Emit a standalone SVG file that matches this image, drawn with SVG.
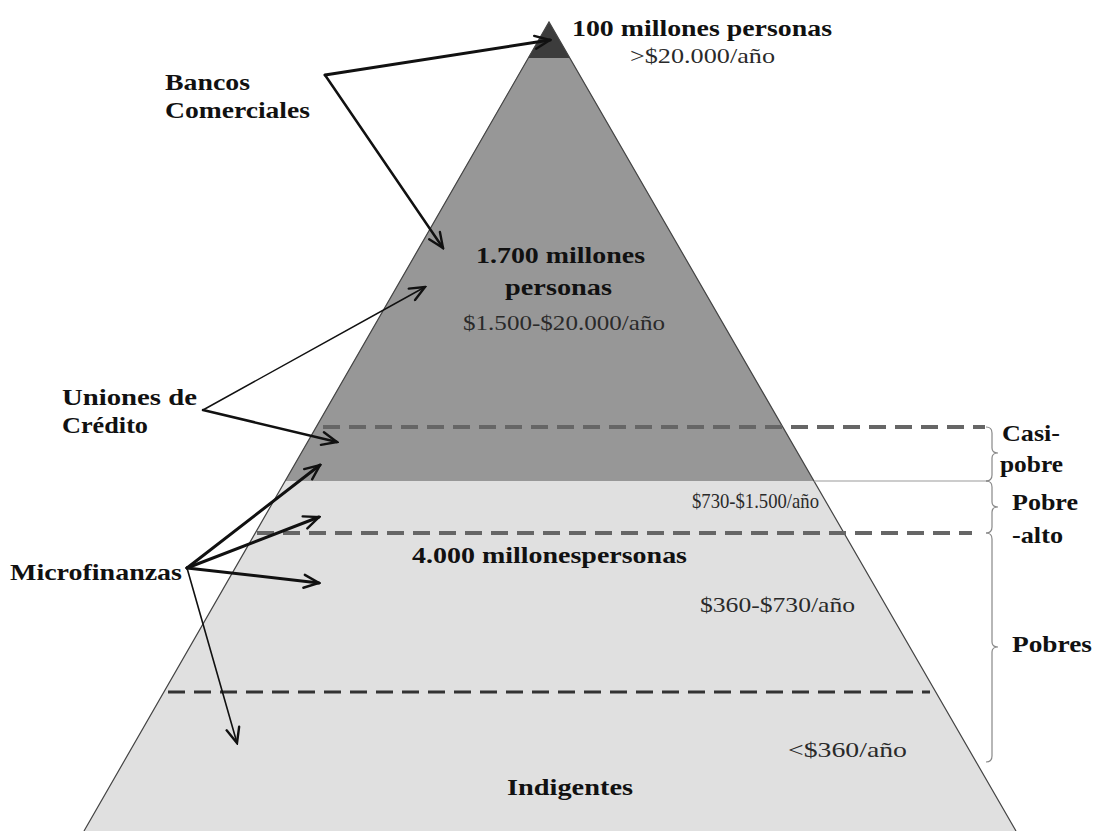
<svg xmlns="http://www.w3.org/2000/svg" width="1095" height="831" viewBox="0 0 1095 831">
<defs>
<style>
.b{font-family:"Liberation Serif","Times New Roman",serif;font-weight:bold;fill:#111;}
.n{font-family:"Liberation Serif","Times New Roman",serif;fill:#2a2a2a;}
.arr{fill:none;stroke:#111;stroke-linecap:round;marker-end:url(#ah);}
.dash1{stroke:#666;stroke-width:4;stroke-dasharray:17 9;fill:none;}
.dash2{stroke:#333;stroke-width:3;stroke-dasharray:17 9;fill:none;}
.brace{fill:none;stroke:#888;stroke-width:1.2;}
</style>
<marker id="ah" viewBox="-17 -8 19 16" refX="0" refY="0" markerWidth="19" markerHeight="16" markerUnits="userSpaceOnUse" orient="auto">
<path d="M -15,-6.5 L 0,0 L -15,6.5" fill="none" stroke="#111" stroke-width="2.4" stroke-linecap="round" stroke-linejoin="miter"/>
</marker>
</defs>
<rect width="1095" height="831" fill="#fff"/>
<g id="pyramid">
<polygon points="285,481 814,481 1016,831 84,831" fill="#e0e0e0"/>
<polygon points="528,58 570,58 814,481 285,481" fill="#979797"/>
<polygon points="549,22 528,58 570,58" fill="#3c3c3c"/>
<polyline points="84,831 549,22 1016,831" fill="none" stroke="#444" stroke-width="1.2"/>
</g>
<g id="dividers">
<line x1="323" y1="427" x2="985" y2="427" class="dash1"/>
<line x1="814" y1="481" x2="988" y2="481" stroke="#999" stroke-width="1.2"/>
<line x1="257" y1="533" x2="972" y2="533" class="dash1"/>
<line x1="168" y1="692" x2="930" y2="692" class="dash2"/>
</g>
<g id="braces">
<path class="brace" d="M 986,427 Q 992,427 992,433 L 992,448 Q 992,453 998,453 Q 992,453 992,458 L 992,475 Q 992,481 986,481"/>
<path class="brace" d="M 986,481 Q 992,481 992,487 L 992,502 Q 992,507 998,507 Q 992,507 992,512 L 992,527 Q 992,533 986,533"/>
<path class="brace" d="M 986,533 Q 992,533 992,539 L 992,642 Q 992,647 998,647 Q 992,647 992,652 L 992,756 Q 992,762 986,762"/>
</g>
<g id="connectors">
<line class="arr" x1="325" y1="75" x2="550" y2="40" stroke-width="3"/>
<line class="arr" x1="325" y1="75" x2="443" y2="248" stroke-width="2.5"/>
<line class="arr" x1="203" y1="410" x2="425" y2="287" stroke-width="1.5"/>
<line class="arr" x1="203" y1="410" x2="337" y2="442" stroke-width="2.5"/>
<line class="arr" x1="187" y1="568" x2="320" y2="465" stroke-width="3"/>
<line class="arr" x1="187" y1="568" x2="319" y2="517" stroke-width="3"/>
<line class="arr" x1="187" y1="568" x2="319" y2="583" stroke-width="3"/>
<line class="arr" x1="187" y1="568" x2="237" y2="743" stroke-width="1.6"/>
</g>
<g id="node-top">
<text class="b" x="572" y="36" font-size="23" textLength="260" lengthAdjust="spacingAndGlyphs">100 millones personas</text>
<text class="n" x="630" y="63" font-size="22" textLength="145" lengthAdjust="spacingAndGlyphs">&gt;$20.000/año</text>
</g>
<g id="node-bancos">
<text class="b" x="165" y="90" font-size="24" textLength="85" lengthAdjust="spacingAndGlyphs">Bancos</text>
<text class="b" x="165" y="118" font-size="24" textLength="145" lengthAdjust="spacingAndGlyphs">Comerciales</text>
</g>
<g id="node-middle">
<text class="b" x="476" y="263" font-size="24" textLength="169" lengthAdjust="spacingAndGlyphs">1.700 millones</text>
<text class="b" x="505" y="295" font-size="24" textLength="107" lengthAdjust="spacingAndGlyphs">personas</text>
<text class="n" x="463" y="330" font-size="22" textLength="202" lengthAdjust="spacingAndGlyphs">$1.500-$20.000/año</text>
</g>
<g id="node-uniones">
<text class="b" x="62" y="405" font-size="24" textLength="135" lengthAdjust="spacingAndGlyphs">Uniones de</text>
<text class="b" x="62" y="433" font-size="24" textLength="86" lengthAdjust="spacingAndGlyphs">Crédito</text>
</g>
<g id="node-micro">
<text class="b" x="10" y="580" font-size="24" textLength="172" lengthAdjust="spacingAndGlyphs">Microfinanzas</text>
</g>
<g id="node-lower">
<text class="n" x="692" y="508" font-size="22" textLength="127" lengthAdjust="spacingAndGlyphs">$730-$1.500/año</text>
<text class="b" x="412" y="563" font-size="23" textLength="275" lengthAdjust="spacingAndGlyphs">4.000 millonespersonas</text>
<text class="n" x="700" y="612" font-size="22" textLength="155" lengthAdjust="spacingAndGlyphs">$360-$730/año</text>
<text class="n" x="788" y="757" font-size="22" textLength="119" lengthAdjust="spacingAndGlyphs">&lt;$360/año</text>
<text class="b" x="507" y="795" font-size="24" textLength="126" lengthAdjust="spacingAndGlyphs">Indigentes</text>
</g>
<g id="node-casipobre">
<text class="b" x="1002" y="441" font-size="24" textLength="58" lengthAdjust="spacingAndGlyphs">Casi-</text>
<text class="b" x="1000" y="472" font-size="24" textLength="63" lengthAdjust="spacingAndGlyphs">pobre</text>
</g>
<g id="node-pobrealto">
<text class="b" x="1012" y="510" font-size="24" textLength="66" lengthAdjust="spacingAndGlyphs">Pobre</text>
<text class="b" x="1012" y="543" font-size="24" textLength="51" lengthAdjust="spacingAndGlyphs">-alto</text>
</g>
<g id="node-pobres">
<text class="b" x="1012" y="652" font-size="24" textLength="80" lengthAdjust="spacingAndGlyphs">Pobres</text>
</g>
</svg>
